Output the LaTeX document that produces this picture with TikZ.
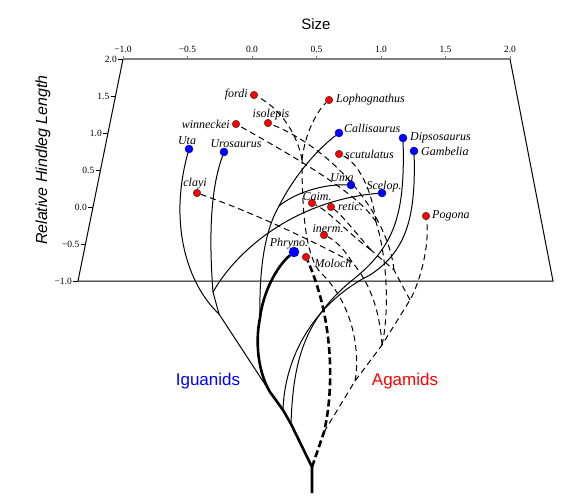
\documentclass[tikz,border=0pt]{standalone}
\usepackage{fontspec}
\setmainfont{Liberation Serif}
\setsansfont{Liberation Sans}
\usetikzlibrary{positioning,backgrounds}
\definecolor{igblue}{HTML}{0000FF}
\definecolor{agred}{HTML}{FF0000}
\definecolor{axisgrey}{HTML}{7F7F7F}
\newcommand{\spfont}{\fontsize{12}{12}\selectfont\itshape}
\newcommand{\tkfont}{\fontsize{9.5}{10}\selectfont}

\begin{document}
\begin{tikzpicture}[x=1pt,y=-1pt,
every node/.style={inner sep=1pt},
sp/.style={font=\spfont},
tick/.style={font=\tkfont},
igdot/.style={circle,fill=igblue,draw=igblue!70!black,line width=.4pt,minimum size=8pt,inner sep=0pt},
agdot/.style={circle,fill=agred,draw=black!80,line width=.5pt,minimum size=7.5pt,inner sep=0pt},
igline/.style={line width=1pt},
igthick/.style={line width=2.6pt,line join=round},
agline/.style={line width=1pt,dash pattern=on 6pt off 4pt},
agthick/.style={line width=2.6pt,dash pattern=on 7pt off 3.5pt},
frame/.style={line width=1pt},
clade/.style={font=\sffamily\fontsize{17}{17}\selectfont}
]
\useasboundingbox (0,0) rectangle (586,498);

% plane and axes
\coordinate (tl) at (123,59); \coordinate (tr) at (510,59);
\coordinate (bl) at (78,281);  \coordinate (br) at (553,281);
\draw[frame] (tl) -- (bl) -- (br) -- (tr);
\draw[axisgrey,line width=2pt] (tl) -- (tr);
\foreach \v [count=\i from 0] in {−1.0,−0.5,0.0,0.5,1.0,1.5,2.0}
  {\draw[axisgrey] (123+64.5*\i,59) -- ++(0,-3);
   \node[tick] (tx\i) at (123+64.5*\i,49) {\v};}
\foreach \v [count=\i from 0] in {2.0,1.5,1.0,0.5,0.0,−0.5,−1.0}
  {\pgfmathsetmacro\yy{59+37*\i}\pgfmathsetmacro\xx{123-45*\i*37/222}
   \draw (\xx,\yy) -- ++(-5,0) node[tick,left] (ty\i) {\v};}
\node[font=\sffamily\fontsize{15}{15}\selectfont] (size) at (316,24) {Size};
\node[font=\sffamily\itshape\fontsize{16}{16}\selectfont,rotate=90] (hind) at (43,160) {Relative Hindleg Length};

% species
\node[agdot] (fordi)  at (254,95)  {};
\node[agdot] (loph)   at (329,100) {};
\node[agdot] (isol)   at (268,123) {};
\node[agdot] (winn)   at (236,124) {};
\node[igdot] (uta)    at (189,149) {};
\node[igdot] (uros)   at (224,152) {};
\node[agdot] (clayi)  at (197,193) {};
\node[igdot] (calli)  at (339,133) {};
\node[igdot] (dipso)  at (403,138) {};
\node[igdot] (gamb)   at (414,151) {};
\node[agdot] (scut)   at (339,154) {};
\node[igdot] (uma)    at (351,185) {};
\node[igdot] (scel)   at (382,193) {};
\node[agdot] (caim)   at (312,203) {};
\node[agdot] (retic)  at (331,207) {};
\node[agdot] (pogona) at (426,216) {};
\node[agdot] (inerm)  at (324,235) {};
\node[igdot,minimum size=10pt] (phryno) at (294,252) {};
\node[agdot] (moloch) at (306,257) {};

\node[sp,anchor=east] (fordi-t)  at (249,95)  {fordi};
\node[sp,anchor=west] (loph-t)   at (335,100) {Lophognathus};
\node[sp]             (isol-t)   at (271,115) {isolepis};
\node[sp,anchor=east] (winn-t)   at (231,124) {winneckei};
\node[sp]             (uta-t)    at (187,141) {Uta};
\node[sp]             (uros-t)   at (236,144) {Urosaurus};
\node[sp]             (clayi-t)  at (195,184) {clayi};
\node[sp,anchor=west] (calli-t)  at (343,128) {Callisaurus};
\node[sp,anchor=west] (dipso-t)  at (409,138) {Dipsosaurus};
\node[sp,anchor=west] (gamb-t)   at (420,151) {Gambelia};
\node[sp,anchor=west] (scut-t)   at (344,154) {scutulatus};
\node[sp]             (uma-t)    at (342,178) {Uma};
\node[sp]             (scel-t)   at (384,187) {Scelop.};
\node[sp]             (caim-t)   at (317,197) {Caim.};
\node[sp,anchor=west] (retic-t)  at (337,207) {retic.};
\node[sp,anchor=west] (pogona-t) at (431,216) {Pogona};
\node[sp]             (inerm-t)  at (328,229) {inerm.};
\node[sp]             (phryno-t) at (289,244) {Phryno.};
\node[sp]             (moloch-t) at (333,263) {Moloch};

\node[clade,text=igblue] (igu) at (208,381) {Iguanids};
\node[clade,text=agred]  (aga) at (405,381) {Agamids};

% branch points
\coordinate (root) at (312,493); \coordinate (f0) at (312,467);
\coordinate (i1) at (291,424); \coordinate (i2) at (283,410);
\coordinate (i3) at (270,392); \coordinate (i4) at (219,314);
\coordinate (i5) at (213,292); \coordinate (i6) at (260,318);
\coordinate (i7) at (279,206);
\coordinate (a1) at (324,432); \coordinate (j1) at (355,381);
\coordinate (j2) at (382,345); \coordinate (j3) at (410,300);
\coordinate (jf) at (302,160); \coordinate (jc) at (352,262);
\coordinate (js) at (376,222); \coordinate (ji) at (394,270);
\coordinate (jr) at (371,250);

\begin{scope}[on background layer]
% iguanids
\draw[igthick] (root) -- (f0) -- (i1) -- (i2) -- (i3) .. controls (258,372) and (255,342) .. (i6)
  .. controls (263,292) and (277,266) .. (phryno);
\draw[igline] (i6) .. controls (259,272) and (264,232) .. (i7) .. controls (292,180) and (314,152) .. (calli);
\draw[igline] (i7) .. controls (295,193) and (322,184) .. (uma);
\draw[igline] (i2) .. controls (285,350) and (320,300) .. (370,275) .. controls (405,252) and (416,220) .. (gamb);
\draw[igline] (i1) .. controls (293,360) and (305,320) .. (350,282) .. controls (395,247) and (405,215) .. (dipso);
\draw[igline] (i3) -- (i4) -- (i5);
\draw[igline] (i4) .. controls (188,285) and (168,225) .. (uta);
\draw[igline] (i5) .. controls (209,240) and (210,190) .. (uros);
\draw[igline] (i5) .. controls (240,245) and (300,200) .. (scel);
% agamids
\draw[agthick] (f0) -- (a1) .. controls (334,390) and (334,320) .. (moloch);
\draw[agline] (a1) -- (j1) -- (j2) -- (j3) .. controls (420,282) and (430,245) .. (pogona);
\draw[agline] (j1) .. controls (360,355) and (355,305) .. (320,272) .. controls (306,255) and (302,215) .. (jf);
\draw[agline] (jf) .. controls (298,135) and (280,108) .. (fordi);
\draw[agline] (jf) .. controls (305,132) and (318,110) .. (loph);
\draw[agline] (j2) .. controls (380,315) and (372,285) .. (jc);
\draw[agline] (jc) .. controls (320,245) and (260,215) .. (clayi);
\draw[agline] (jc) .. controls (345,250) and (335,240) .. (inerm);
\draw[agline] (j2) .. controls (389,315) and (388,260) .. (js);
\draw[agline] (js) .. controls (372,190) and (358,162) .. (scut);
\draw[agline] (js) .. controls (360,195) and (300,160) .. (winn);
\draw[agline] (j3) -- (ji) -- (jr);
\draw[agline] (ji) .. controls (388,215) and (335,150) .. (isol);
\draw[agline] (jr) .. controls (350,235) and (330,212) .. (caim);
\draw[agline] (jr) .. controls (355,232) and (342,215) .. (retic);
\end{scope}
\end{tikzpicture}
\end{document}
